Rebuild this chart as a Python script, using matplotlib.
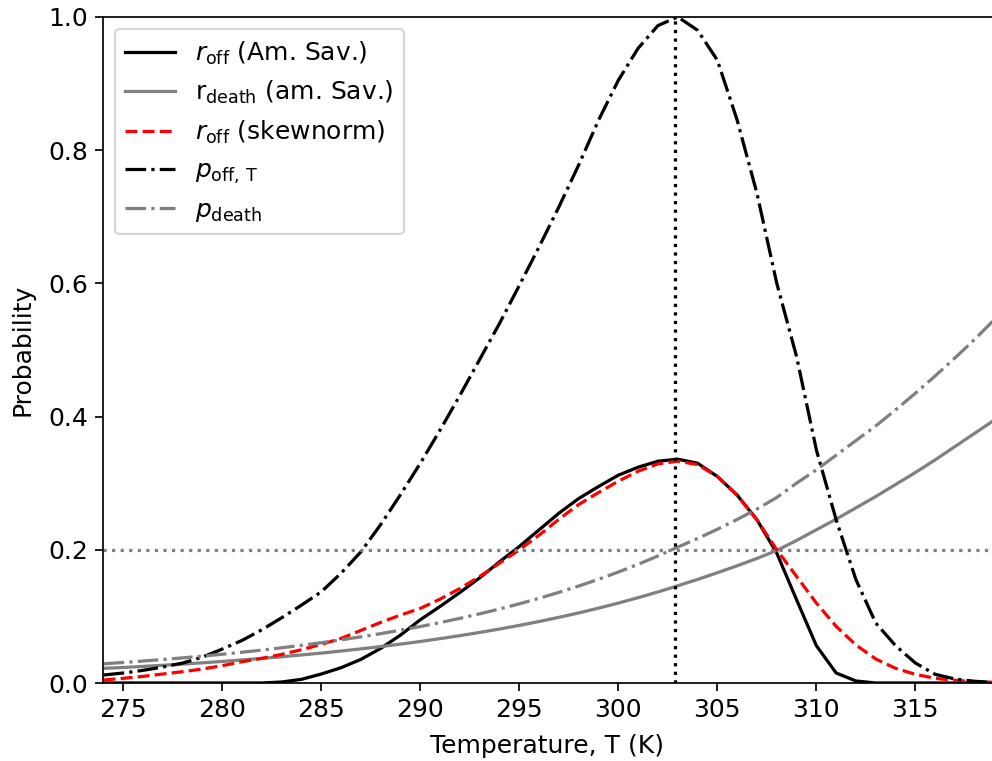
import numpy as np
import matplotlib
matplotlib.use("Agg")
import matplotlib.pyplot as plt

plt.rcParams["font.size"] = 11.6

# temperatures (K), sampled every 1 K
temps = np.arange(274, 320)

# r_off (Am. Sav.)
r_off = [0.0, 0.0, 0.0, 0.0, 0.0, 0.0, 0.0, 0.0, 0.0, 0.0015,
         0.0055, 0.0135, 0.023, 0.0355, 0.052, 0.072, 0.095, 0.115, 0.136, 0.158,
         0.182, 0.205, 0.23, 0.255, 0.277, 0.295, 0.312, 0.324, 0.333, 0.336,
         0.33, 0.31, 0.282, 0.245, 0.195, 0.125, 0.056, 0.015, 0.003, 0.0,
         0.0, 0.0, 0.0, 0.0, 0.0, 0.0]

# r_death (am. Sav.)
r_death = [0.022, 0.0233, 0.0249, 0.0266, 0.0284, 0.0303, 0.0324, 0.0346, 0.0369, 0.0394,
           0.0421, 0.0449, 0.048, 0.0512, 0.0547, 0.0584, 0.0623, 0.0666, 0.0711, 0.0759,
           0.081, 0.0865, 0.0923, 0.0986, 0.1052, 0.1124, 0.12, 0.1281, 0.1367, 0.146,
           0.1555, 0.1655, 0.176, 0.187, 0.199, 0.214, 0.23, 0.246, 0.263, 0.28,
           0.298, 0.316, 0.335, 0.355, 0.375, 0.395]

# r_off (skewnorm fit)
r_off_skew = [0.0045, 0.007, 0.010, 0.0135, 0.017, 0.021, 0.026, 0.032, 0.037, 0.043,
              0.050, 0.058, 0.067, 0.079, 0.091, 0.102, 0.112, 0.126, 0.142, 0.16,
              0.18, 0.2, 0.222, 0.246, 0.268, 0.286, 0.303, 0.318, 0.329, 0.333,
              0.328, 0.31, 0.282, 0.245, 0.20, 0.16, 0.12, 0.085, 0.057, 0.036,
              0.022, 0.013, 0.007, 0.004, 0.002, 0.001]

# p_off,T
p_off = [0.012, 0.015, 0.019, 0.024, 0.030, 0.039, 0.051, 0.064, 0.080, 0.098,
         0.117, 0.137, 0.165, 0.197, 0.238, 0.283, 0.33, 0.38, 0.432, 0.486,
         0.54, 0.597, 0.655, 0.715, 0.778, 0.845, 0.905, 0.953, 0.987, 1.0,
         0.98, 0.935, 0.845, 0.735, 0.60, 0.49, 0.35, 0.245, 0.155, 0.09,
         0.056, 0.03, 0.013, 0.006, 0.0025, 0.001]

# p_death
p_death = [0.0288, 0.0308, 0.033, 0.0353, 0.0377, 0.0404, 0.0432, 0.0462, 0.0494, 0.0529,
           0.0566, 0.0605, 0.0648, 0.0693, 0.0741, 0.0793, 0.0848, 0.0907, 0.0971, 0.1039,
           0.1111, 0.1189, 0.1272, 0.1361, 0.1456, 0.1557, 0.1666, 0.1782, 0.1907, 0.204,
           0.217, 0.2308, 0.2455, 0.2612, 0.2785, 0.30, 0.32, 0.342, 0.364, 0.386,
           0.41, 0.435, 0.461, 0.488, 0.516, 0.546]

t_opt = 302.85
p_threshold = 0.2

fig = plt.figure(figsize=(6.4, 4.91), dpi=155)
ax = fig.add_axes([0.1038, 0.1025, 0.8962, 0.8752])

ax.plot(temps, r_off, color="black", label=r"$r_\mathrm{off}$ (Am. Sav.)")
ax.plot(temps, r_death, color="grey", label=r"r$_\mathrm{death}$ (am. Sav.)")
ax.plot(temps, r_off_skew, color="red", ls="--", label=r"$r_\mathrm{off}$ (skewnorm)")
ax.plot(temps, p_off, color="black", ls="-.", label=r"$p_\mathrm{off,\,T}$")
ax.plot(temps, p_death, color="grey", ls="-.", label=r"$p_\mathrm{death}$")

ax.axvline(t_opt, color="black", ls=":")
ax.axhline(p_threshold, color="grey", ls=":")

ax.set_xlim(273.97, 318.87)
ax.set_ylim(0, 1)
ax.set_xticks(np.arange(275, 316, 5))
ax.set_yticks(np.arange(0, 1.01, 0.2))
ax.spines["right"].set_visible(False)
ax.set_xlabel("Temperature, T (K)", labelpad=5.5)
ax.set_ylabel("Probability", labelpad=6.5)
ax.legend(loc="upper left")

fig.savefig("out.png", dpi=155)
